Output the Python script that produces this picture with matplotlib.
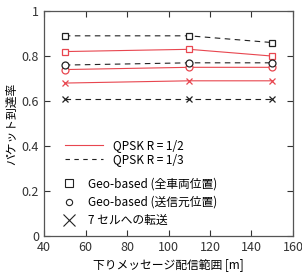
import matplotlib
matplotlib.use('Agg')
import matplotlib.pyplot as plt
from matplotlib.lines import Line2D

plt.rcParams['font.family'] = ['Noto Sans CJK JP', 'DejaVu Sans']

x = [50, 110, 150]
# QPSK R = 1/2 (red, solid)
sq_half = [0.82, 0.83, 0.80]
ci_half = [0.74, 0.75, 0.75]
x7_half = [0.68, 0.69, 0.69]
# QPSK R = 1/3 (black, dashed)
sq_third = [0.89, 0.89, 0.86]
ci_third = [0.76, 0.77, 0.77]
x7_third = [0.61, 0.61, 0.61]

xticks = [40, 60, 80, 100, 120, 140, 160]
yticks = [0, 0.2, 0.4, 0.6, 0.8, 1]
ytick_labels = ['0', '0.2', '0.4', '0.6', '0.8', '1']

red = '#e8464f'
blk = '#222222'

fig = plt.figure(figsize=(3.02, 2.77), dpi=100)
ax = fig.add_axes([0.146, 0.148, 0.824, 0.812])

ms = 5
for ys, m in [(sq_half, 's'), (ci_half, 'o'), (x7_half, 'x')]:
    ax.plot(x, ys, color=red, lw=0.8, marker=m, ms=ms, mfc='white', mec=red, mew=0.9)
for ys, m in [(sq_third, 's'), (ci_third, 'o'), (x7_third, 'x')]:
    ax.plot(x, ys, color=blk, lw=0.8, ls=(0, (5, 4)), marker=m, ms=ms, mfc='white', mec=blk, mew=0.9)

ax.set_xlim(40, 160)
ax.set_ylim(0, 1)
ax.set_xticks(xticks)
ax.set_yticks(yticks)
ax.set_yticklabels(ytick_labels)
ax.tick_params(direction='in', top=True, right=True, labelsize=9, length=4, width=0.8, colors='#333333')
for s in ax.spines.values():
    s.set_color('#555555')
    s.set_linewidth(0.9)

ax.set_xlabel('下りメッセージ配信範囲 [m]', fontsize=8.5, labelpad=3)
ax.set_ylabel('パケット到達率', fontsize=8.5, labelpad=3)

h1 = [Line2D([], [], color=red, lw=0.8),
      Line2D([], [], color=blk, lw=0.8, ls=(0, (4, 4)))]
leg1 = ax.legend(h1, ['QPSK R = 1/2', 'QPSK R = 1/3'], loc='center left',
                 bbox_to_anchor=(0.084, 0.372), frameon=False, fontsize=8.5,
                 handlelength=3.2, handletextpad=0.85, labelspacing=0.1,
                 borderpad=0, borderaxespad=0)
ax.add_artist(leg1)

h2 = [Line2D([], [], ls='none', marker='s', ms=5.5, mfc='white', mec=blk, mew=0.8),
      Line2D([], [], ls='none', marker='o', ms=4.5, mfc='white', mec=blk, mew=0.8),
      Line2D([], [], ls='none', marker='x', ms=8, mec=blk, mew=0.8)]
ax.legend(h2, ['Geo-based (全車両位置)', 'Geo-based (送信元位置)', '7 セルへの転送'],
          loc='center left', bbox_to_anchor=(0.076, 0.15), frameon=False, fontsize=8.5,
          handlelength=1.0, handletextpad=1.1, labelspacing=0.45,
          borderpad=0, borderaxespad=0)

fig.savefig('out.png', dpi=100)
